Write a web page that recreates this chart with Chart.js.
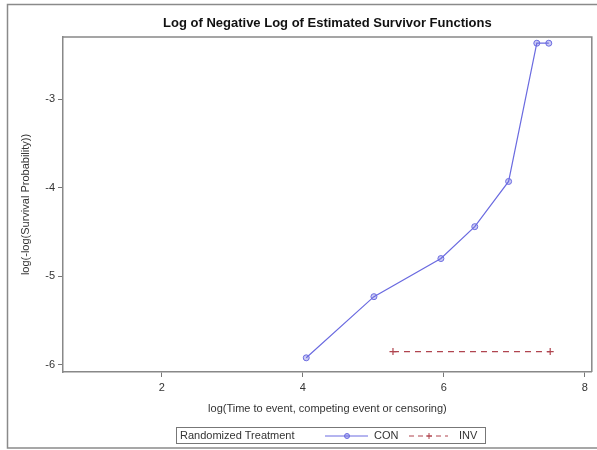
<!DOCTYPE html>
<html>
<head>
<meta charset="utf-8">
<script src="https://cdn.jsdelivr.net/npm/chart.js@4.4.1/dist/chart.umd.min.js"></script>
<style>
  html, body { margin: 0; padding: 0; background: #fff; }
  #wrap { position: relative; width: 597px; height: 450px; }
  canvas { display: block; }
</style>
</head>
<body>
<div id="wrap"><canvas id="c" width="597" height="450"></canvas></div>
<script>
// log(time) and log(-log(S(t))) for each treatment arm
const conLogTime = [4.05, 5.01, 5.96, 6.44, 6.92, 7.32, 7.49];
const conLogLogS = [-5.92, -5.23, -4.80, -4.44, -3.93, -2.37, -2.37];
const invLogTime = [5.28, 7.51];
const invLogLogS = [-5.85, -5.85];

const xTicks = [2, 4, 6, 8];
const yTicks = [-6, -5, -4, -3];

const titleText = 'Log of Negative Log of Estimated Survivor Functions';
const xTitle = 'log(Time to event, competing event or censoring)';
const yTitle = 'log(-log(Survival Probability))';
const legendTitle = 'Randomized Treatment';
const groupNames = ['CON', 'INV'];

const FONT = '"Liberation Sans", Arial, sans-serif';
const CON_COLOR = '#6b6be0';
const INV_COLOR = '#b0454f';

function toPoints(xs, ys) {
  return xs.map((x, i) => ({ x: x, y: ys[i] }));
}

// frame, titles and legend box drawn around the plot area
const decorations = {
  id: 'decorations',
  afterDraw(chart) {
    const ctx = chart.ctx;
    const a = chart.chartArea;
    ctx.save();

    // outer border
    ctx.strokeStyle = '#8a8a8a';
    ctx.lineWidth = 1.5;
    ctx.strokeRect(7.5, 4.5, 600, 443.5);

    // top and right edges of the plot frame
    ctx.strokeStyle = '#888';
    ctx.lineWidth = 1.5;
    ctx.beginPath();
    ctx.moveTo(a.left, a.top);
    ctx.lineTo(a.right, a.top);
    ctx.lineTo(a.right, a.bottom);
    ctx.stroke();

    // chart title
    const cx = (a.left + a.right) / 2;
    ctx.fillStyle = '#111';
    ctx.font = 'bold 13px ' + FONT;
    ctx.textAlign = 'center';
    ctx.textBaseline = 'alphabetic';
    ctx.fillText(titleText, cx, 27);

    // axis titles
    ctx.fillStyle = '#333';
    ctx.font = '11px ' + FONT;
    ctx.fillText(xTitle, cx, 412);
    ctx.save();
    ctx.translate(29, (a.top + a.bottom) / 2);
    ctx.rotate(-Math.PI / 2);
    ctx.fillText(yTitle, 0, 0);
    ctx.restore();

    // legend
    ctx.strokeStyle = '#777';
    ctx.lineWidth = 1;
    ctx.strokeRect(176.5, 427.5, 309, 16);
    ctx.fillStyle = '#333';
    ctx.textAlign = 'left';
    ctx.textBaseline = 'middle';
    const ly = 436;
    ctx.fillText(legendTitle, 180, ly);

    // CON entry
    ctx.strokeStyle = CON_COLOR;
    ctx.lineWidth = 1;
    ctx.beginPath();
    ctx.moveTo(325, ly); ctx.lineTo(368, ly);
    ctx.stroke();
    ctx.fillStyle = 'rgba(107,107,224,0.45)';
    ctx.beginPath();
    ctx.arc(347, ly, 2.5, 0, Math.PI * 2);
    ctx.fill(); ctx.stroke();
    ctx.fillStyle = '#333';
    ctx.fillText(groupNames[0], 374, ly);

    // INV entry
    ctx.strokeStyle = INV_COLOR;
    ctx.setLineDash([5, 4]);
    ctx.beginPath();
    ctx.moveTo(409, ly); ctx.lineTo(448, ly);
    ctx.stroke();
    ctx.setLineDash([]);
    ctx.beginPath();
    ctx.moveTo(426, ly); ctx.lineTo(432, ly);
    ctx.moveTo(429, ly - 3); ctx.lineTo(429, ly + 3);
    ctx.stroke();
    ctx.fillStyle = '#333';
    ctx.fillText(groupNames[1], 459, ly);

    ctx.restore();
  }
};

new Chart(document.getElementById('c'), {
  type: 'scatter',
  data: {
    datasets: [
      {
        label: groupNames[0],
        data: toPoints(conLogTime, conLogLogS),
        showLine: true,
        borderColor: CON_COLOR,
        borderWidth: 1.2,
        backgroundColor: 'rgba(107,107,224,0.35)',
        pointStyle: 'circle',
        pointRadius: 3,
        pointBorderWidth: 1,
        pointBorderColor: CON_COLOR,
        tension: 0
      },
      {
        label: groupNames[1],
        data: toPoints(invLogTime, invLogLogS),
        showLine: true,
        borderColor: INV_COLOR,
        borderWidth: 1.2,
        borderDash: [6, 5],
        pointStyle: 'cross',
        pointRadius: 3.5,
        pointBorderWidth: 1.2,
        pointBorderColor: INV_COLOR,
        tension: 0
      }
    ]
  },
  options: {
    responsive: false,
    animation: false,
    layout: { padding: { top: 37, right: 0, left: 0, bottom: 0 } },
    plugins: {
      legend: { display: false },
      tooltip: { enabled: false },
      title: { display: false }
    },
    scales: {
      x: {
        type: 'linear',
        min: 0.6,
        max: 8.1,
        afterFit(scale) {
          scale.height = 78;
          scale.paddingLeft = 0;
          scale.paddingRight = 2;
        },
        afterBuildTicks(scale) { scale.ticks = xTicks.map(v => ({ value: v })); },
        grid: { drawOnChartArea: false, drawTicks: true, tickLength: 5, color: '#777', lineWidth: 1 },
        border: { display: true, color: '#888', width: 1.5 },
        ticks: { color: '#333', font: { family: FONT, size: 11 }, padding: 4, maxRotation: 0 }
      },
      y: {
        type: 'linear',
        min: -6.08,
        max: -2.30,
        afterFit(scale) {
          scale.width = 63;
          scale.paddingTop = 0;
          scale.paddingBottom = 0;
        },
        afterBuildTicks(scale) { scale.ticks = yTicks.map(v => ({ value: v })); },
        grid: { drawOnChartArea: false, drawTicks: true, tickLength: 5, color: '#777', lineWidth: 1 },
        border: { display: true, color: '#888', width: 1.5 },
        ticks: { color: '#333', font: { family: FONT, size: 11 }, padding: 3 }
      }
    }
  },
  plugins: [decorations]
});
</script>
</body>
</html>
